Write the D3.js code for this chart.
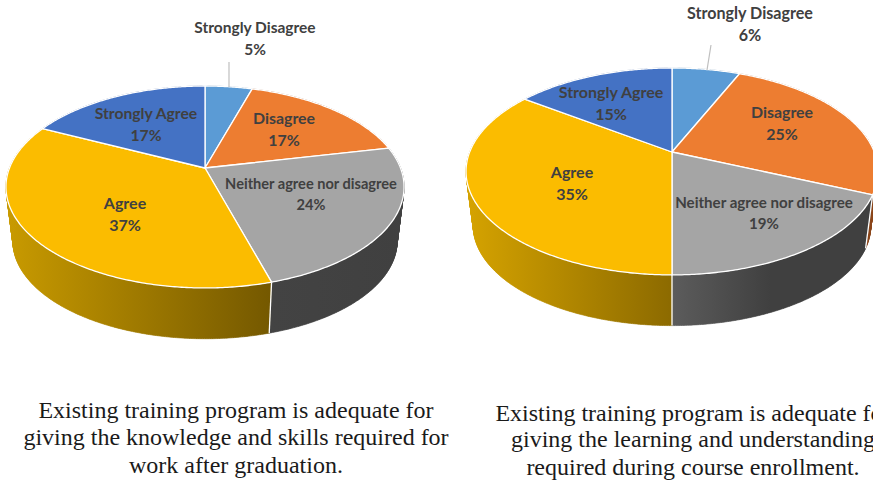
<!DOCTYPE html>
<html>
<head>
<meta charset="utf-8">
<script src="https://cdn.jsdelivr.net/npm/d3@7"></script>
<style>
  html, body { margin: 0; padding: 0; background: #fff; overflow: hidden; }
  svg { display: block; }
  .lbl { font-family: Lato, sans-serif; font-weight: 700; fill: #404040; text-anchor: middle; }
  .cap { font-family: "Liberation Serif", serif; font-size: 24px; fill: #1a1a1a; text-anchor: middle; }
</style>
</head>
<body>
<svg id="chart" width="873" height="483"></svg>
<script>
// Data
const categories = ['Strongly Disagree', 'Disagree', 'Neither agree nor disagree', 'Agree', 'Strongly Agree'];
const leftValues = [5, 17, 24, 37, 17];
const rightValues = [6, 25, 19, 35, 15];
// slice sizes as measured, the printed labels above are rounded
const leftShares = [4.6, 17, 23.9, 36.7, 17.8];
const rightShares = [6.4, 25.1, 18.5, 35, 15];
const leftCaption = ['Existing training program is adequate for', 'giving the knowledge and skills required for', 'work after graduation.'];
const rightCaption = ['Existing training program is adequate for', 'giving the learning and understanding', 'required during course enrollment.'];

const topColors = ['#5B9BD5', '#ED7D31', '#A5A5A5', '#FBBC00', '#4472C4'];
// wall gradient, left end then right end
const leftWalls = [
  ['#3a6a96', '#3a6a96'],
  ['#a85820', '#8a4418'],
  ['#434343', '#404040'],
  ['#c89a00', '#745800'],
  ['#2f5090', '#2f5090']
];
const rightWalls = [
  ['#3a6a96', '#3a6a96'],
  ['#a85820', '#8a4418'],
  ['#5c5c5c', '#404040'],
  ['#d4a200', '#8c6a00'],
  ['#2f5090', '#2f5090']
];

// Tilted disc layout
const tilt = -0.188;
const leftPie = {
  id: 'l', cx: 205, cy: 168, rx: 195.5, ry: 97.4, wallDrop: 55, wallShrink: 0.965,
  values: leftValues, shares: leftShares, walls: leftWalls, gradX: [8, 272], nGradX: [272, 400],
  labelPos: [[255, 28], [284, 119], [311, 184], [125, 204], [146, 114]],
  labelSize: [15.5, 15.9, 14.6, 16, 15.7],
  leader: [[229, 62], [229, 87]],
  caption: leftCaption, capX: 236, capY: [418, 445, 473]
};
const rightPie = {
  id: 'r', cx: 672, cy: 152, rx: 202.3, ry: 99.8, wallDrop: 55, wallShrink: 0.965,
  values: rightValues, shares: rightShares, walls: rightWalls, gradX: [470, 672], nGradX: [672, 770],
  labelPos: [[750, 14], [782, 113], [764, 203], [572, 173], [611, 93]],
  labelSize: [16.1, 15.9, 15.1, 16, 16],
  leader: [[711, 45], [707, 70]],
  caption: rightCaption, capX: 693, capY: [421, 447, 475]
};

const svg = d3.select('#chart');
const defs = svg.append('defs');

function drawPie(p) {
  const arcs = d3.pie().sort(null).value(d => d)(p.shares);

  // maps a point of the unit disc onto the tilted ellipse
  function project(angle, shrink, drop) {
    const u = Math.sin(angle);
    const v = -Math.cos(angle);
    const w = 1 + tilt * v;
    const x = d3.scaleLinear().domain([-1, 1]).range([p.cx - p.rx * shrink, p.cx + p.rx * shrink]);
    const y = d3.scaleLinear().domain([-1, 1]).range([p.cy + drop - p.ry * shrink, p.cy + drop + p.ry * shrink]);
    return [x(u / w), y(v / w)];
  }

  function edge(a0, a1, shrink, drop) {
    const n = Math.max(2, Math.ceil((a1 - a0) / 0.01));
    return d3.range(n + 1).map(i => project(a0 + (a1 - a0) * i / n, shrink, drop));
  }

  const line = d3.line();
  const g = svg.append('g');

  // gradients for the walls
  arcs.forEach((a, i) => {
    const span = i === 2 ? p.nGradX : p.gradX;
    const grad = defs.append('linearGradient')
      .attr('id', `wall-${p.id}-${i}`)
      .attr('gradientUnits', 'userSpaceOnUse')
      .attr('x1', span[0]).attr('x2', span[1]).attr('y1', 0).attr('y2', 0);
    grad.append('stop').attr('offset', '0%').attr('stop-color', p.walls[i][0]);
    grad.append('stop').attr('offset', '100%').attr('stop-color', p.walls[i][1]);
  });

  // walls first, the top face hides the back part. One small quad per step so the
  // silhouette between the top and bottom rims gets filled too
  g.selectAll('path.wall')
    .data(arcs)
    .enter().append('path')
    .attr('class', 'wall')
    .attr('d', a => {
      const top = edge(a.startAngle, a.endAngle, 1, 0);
      const bottom = edge(a.startAngle, a.endAngle, p.wallShrink, p.wallDrop);
      return d3.range(top.length - 1)
        .map(k => line([top[k], top[k + 1], bottom[k + 1], bottom[k]]) + 'Z')
        .join('');
    })
    .attr('fill', (a, i) => `url(#wall-${p.id}-${i})`)
    .attr('stroke', (a, i) => `url(#wall-${p.id}-${i})`)
    .attr('stroke-width', 0.6);

  // white dividers on the front of the wall
  g.selectAll('path.divider')
    .data(arcs.filter(a => Math.cos(a.startAngle) < 0))
    .enter().append('path')
    .attr('class', 'divider')
    .attr('d', a => line([project(a.startAngle, 1, 0), project(a.startAngle, p.wallShrink, p.wallDrop)]))
    .attr('stroke', '#fff')
    .attr('stroke-width', 1.3);

  // top face
  g.selectAll('path.face')
    .data(arcs)
    .enter().append('path')
    .attr('class', 'face')
    .attr('d', a => line([[p.cx, p.cy]].concat(edge(a.startAngle, a.endAngle, 1, 0))) + 'Z')
    .attr('fill', (a, i) => topColors[i])
    .attr('stroke', '#fff')
    .attr('stroke-width', 1.3)
    .attr('stroke-linejoin', 'round');

  // leader of the small slice
  g.append('path')
    .attr('d', line(p.leader))
    .attr('stroke', '#bfbfbf')
    .attr('stroke-width', 1.2)
    .attr('fill', 'none');

  // labels
  categories.forEach((c, i) => {
    const pos = p.labelPos[i];
    const t = g.append('text').attr('class', 'lbl').attr('x', pos[0]).attr('y', pos[1] + 5)
      .style('font-size', `${p.labelSize[i]}px`);
    t.append('tspan').attr('x', pos[0]).text(c);
    t.append('tspan').attr('x', pos[0]).attr('dy', i === 2 ? 20.5 : 22).text(`${p.values[i]}%`);
  });

  // caption
  g.selectAll('text.cap')
    .data(p.caption)
    .enter().append('text')
    .attr('class', 'cap')
    .attr('x', p.capX)
    .attr('y', (d, i) => p.capY[i])
    .text(d => d);
}

drawPie(leftPie);
drawPie(rightPie);
</script>
</body>
</html>
